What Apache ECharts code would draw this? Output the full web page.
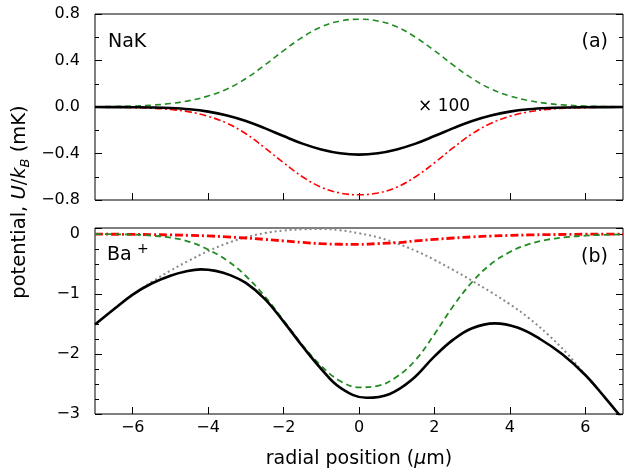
<!DOCTYPE html>
<html>
<head>
<meta charset="utf-8">
<script src="https://cdn.jsdelivr.net/npm/echarts@6/dist/echarts.min.js"></script>
<style>
  html, body { margin: 0; padding: 0; background: #fff; }
  #chart { width: 624px; height: 470px; }
</style>
</head>
<body>
<div id="chart"></div>
<script>
  // radial positions (um)
  const xs = [-7, -6.5, -6, -5.5, -5, -4.5, -4, -3.5, -3, -2.5, -2, -1.5, -1, -0.5, 0,
    0.5, 1, 1.5, 2, 2.5, 3, 3.5, 4, 4.5, 5, 5.5, 6, 6.5, 7];
  // positions read for the Ba+ total curve (denser around its turning points)
  const xsBaTotal = [-7, -6.5, -6, -5.5, -5, -4.6, -4.2, -3.8, -3.4, -3, -2.5, -2, -1.5, -1, -0.5, 0.2,
    0.8, 1.4, 2, 2.5, 3, 3.6, 4.2, 4.8, 5.4, 6, 6.5, 7];

  // panel (a) NaK
  const nakGreen = [0.002, 0.004, 0.008, 0.016, 0.03, 0.055, 0.095, 0.155, 0.245, 0.36, 0.485, 0.6, 0.69, 0.74, 0.755,
    0.74, 0.69, 0.6, 0.485, 0.36, 0.245, 0.155, 0.095, 0.055, 0.03, 0.016, 0.008, 0.004, 0.002];
  const nakRed = [-0.001, -0.002, -0.005, -0.01, -0.021, -0.042, -0.08, -0.14, -0.23, -0.35, -0.48, -0.6, -0.69, -0.74, -0.755,
    -0.74, -0.69, -0.6, -0.48, -0.35, -0.23, -0.14, -0.08, -0.042, -0.021, -0.01, -0.005, -0.002, -0.001];
  const nakBlack = [0, -0.001, -0.002, -0.004, -0.009, -0.02, -0.04, -0.073, -0.12, -0.182, -0.25, -0.315, -0.365, -0.398, -0.41,
    -0.398, -0.365, -0.315, -0.25, -0.182, -0.12, -0.073, -0.04, -0.02, -0.009, -0.004, -0.002, -0.001, 0];

  // panel (b) Ba+
  const baBlack = [-1.51, -1.255, -1.01, -0.825, -0.695, -0.625, -0.59, -0.615, -0.69, -0.815, -1.08, -1.46, -1.87, -2.25, -2.56, -2.73,
    -2.67, -2.43, -2.04, -1.76, -1.57, -1.49, -1.56, -1.75, -2.01, -2.35, -2.71, -3.09];
  const baGray = [-1.51, -1.25, -1.01, -0.8, -0.61, -0.44, -0.285, -0.155, -0.055, 0.015, 0.058, 0.078, 0.082, 0.062, 0.012,
    -0.055, -0.155, -0.28, -0.43, -0.6, -0.78, -0.97, -1.17, -1.4, -1.67, -1.98, -2.35, -2.71, -3.09];
  const baGreen = [0, -0.003, -0.01, -0.028, -0.06, -0.13, -0.26, -0.44, -0.7, -1.04, -1.44, -1.85, -2.2, -2.45, -2.555,
    -2.53, -2.38, -2.1, -1.67, -1.2, -0.8, -0.5, -0.3, -0.17, -0.095, -0.052, -0.028, -0.014, -0.007];
  const baRed = [-0.003, -0.004, -0.006, -0.01, -0.015, -0.022, -0.032, -0.048, -0.067, -0.09, -0.115, -0.14, -0.162, -0.171, -0.174,
    -0.16, -0.145, -0.115, -0.09, -0.067, -0.048, -0.034, -0.024, -0.016, -0.01, -0.007, -0.004, -0.002, -0.001];

  const xTicks = [-6, -4, -2, 0, 2, 4, 6];
  const topTicks = [-0.8, -0.4, 0, 0.4, 0.8];
  const bottomTicks = [-3, -2, -1, 0];

  const font = 'DejaVu Sans';
  const minus = (v) => String(v).replace('-', '\u2212');

  function pairs(arr, xArr) {
    const xv = xArr || xs;
    return xv.map((x, i) => [x, arr[i]]);
  }

  function yAxis(grid, pos, min, max, interval, minorSplit, labels, fmt) {
    return {
      type: 'value',
      gridIndex: grid,
      position: pos,
      min: min,
      max: max,
      interval: interval,
      axisLine: { show: false, onZero: false },
      splitLine: { show: false },
      axisTick: { show: true, inside: true, length: 7, lineStyle: { color: '#000' } },
      minorTick: { show: true, splitNumber: minorSplit, length: 4, lineStyle: { color: '#000' } },
      axisLabel: {
        show: pos === 'left',
        customValues: labels,
        margin: 15,
        color: '#000',
        fontFamily: font,
        fontSize: 16,
        formatter: fmt,
      },
    };
  }

  function xAxis(grid, showLabel) {
    return {
      type: 'value',
      gridIndex: grid,
      position: 'bottom',
      min: -7,
      max: 7,
      axisLine: { show: false, onZero: false },
      splitLine: { show: false },
      axisTick: { show: true, inside: true, length: 7, customValues: xTicks, lineStyle: { color: '#000' } },
      axisLabel: {
        show: showLabel,
        customValues: xTicks,
        margin: 6,
        color: '#000',
        fontFamily: font,
        fontSize: 16,
        formatter: (v) => minus(v),
      },
    };
  }

  function line(name, data, grid, color, width, type) {
    return {
      name: name,
      type: 'line',
      xAxisIndex: grid,
      yAxisIndex: grid * 2,
      data: data,
      showSymbol: false,
      smooth: 0.4,
      silent: true,
      lineStyle: { color: color, width: width, type: type },
    };
  }

  const myChart = echarts.init(document.getElementById('chart'), null, { renderer: 'canvas' });

  const options = {
    animation: false,
    backgroundColor: '#fff',
    grid: [
      { left: 95, right: 1, top: 14, height: 186, show: true, borderColor: '#000', borderWidth: 1 },
      { left: 95, right: 1, top: 228, height: 186, show: true, borderColor: '#000', borderWidth: 1 },
    ],
    xAxis: [xAxis(0, false), xAxis(1, true)],
    yAxis: [
      yAxis(0, 'left', -0.8, 0.8, 0.4, 2, topTicks, (v) => minus(v.toFixed(1))),
      yAxis(0, 'right', -0.8, 0.8, 0.4, 2, topTicks, null),
      yAxis(1, 'left', -3, 0.1, 1, 4, bottomTicks, (v) => minus(v)),
      yAxis(1, 'right', -3, 0.1, 1, 4, bottomTicks, null),
    ],
    series: [
      line('NaK green', pairs(nakGreen), 0, '#228b22', 1.6, [6, 4]),
      line('NaK red', pairs(nakRed), 0, '#ff0000', 1.6, [7, 3, 2, 3]),
      line('NaK total', pairs(nakBlack), 0, '#000', 2.6, 'solid'),
      line('Ba gray', pairs(baGray), 1, '#888888', 2, [2, 3]),
      line('Ba red', pairs(baRed), 1, '#ff0000', 2.8, [8, 3, 2, 3]),
      line('Ba green', pairs(baGreen), 1, '#228b22', 1.8, [6, 4]),
      line('Ba total', pairs(baBlack, xsBaTotal), 1, '#000', 2.6, 'solid'),
    ],
    graphic: [
      { type: 'text', x: 108, y: 42, style: { text: 'NaK', fontFamily: font, fontSize: 19, fill: '#000', verticalAlign: 'middle' } },
      { type: 'text', x: 608, y: 42, style: { text: '(a)', fontFamily: font, fontSize: 19, fill: '#000', align: 'right', verticalAlign: 'middle' } },
      { type: 'text', x: 418, y: 107, style: { text: '\u00d7 100', fontFamily: font, fontSize: 17, fill: '#000', verticalAlign: 'middle' } },
      { type: 'text', x: 107, y: 255, style: { text: 'Ba', fontFamily: font, fontSize: 19, fill: '#000', verticalAlign: 'middle' } },
      { type: 'text', x: 137, y: 249, style: { text: '+', fontFamily: font, fontSize: 14, fill: '#000', verticalAlign: 'middle' } },
      { type: 'text', x: 608, y: 257, style: { text: '(b)', fontFamily: font, fontSize: 19, fill: '#000', align: 'right', verticalAlign: 'middle' } },
      {
        type: 'text', x: 359, y: 459,
        style: {
          text: '{n|radial position (}{i|\u03bc}{n|m)}',
          fill: '#000',
          align: 'center',
          verticalAlign: 'middle',
          rich: {
            n: { fontFamily: font, fontSize: 19 },
            i: { fontFamily: font, fontSize: 19, fontStyle: 'italic' },
          },
        },
      },
      {
        type: 'text', x: 20, y: 202, rotation: Math.PI / 2,
        style: {
          text: '{n|potential, }{i|U}{n|/}{i|k}{sub|B}{n| (mK)}',
          fill: '#000',
          align: 'center',
          verticalAlign: 'middle',
          rich: {
            n: { fontFamily: font, fontSize: 19.5, lineHeight: 24 },
            i: { fontFamily: font, fontSize: 19.5, fontStyle: 'italic', lineHeight: 24 },
            sub: { fontFamily: font, fontSize: 13, fontStyle: 'italic', lineHeight: 13, verticalAlign: 'bottom' },
          },
        },
      },
    ],
  };

  myChart.setOption(options);
</script>
</body>
</html>
